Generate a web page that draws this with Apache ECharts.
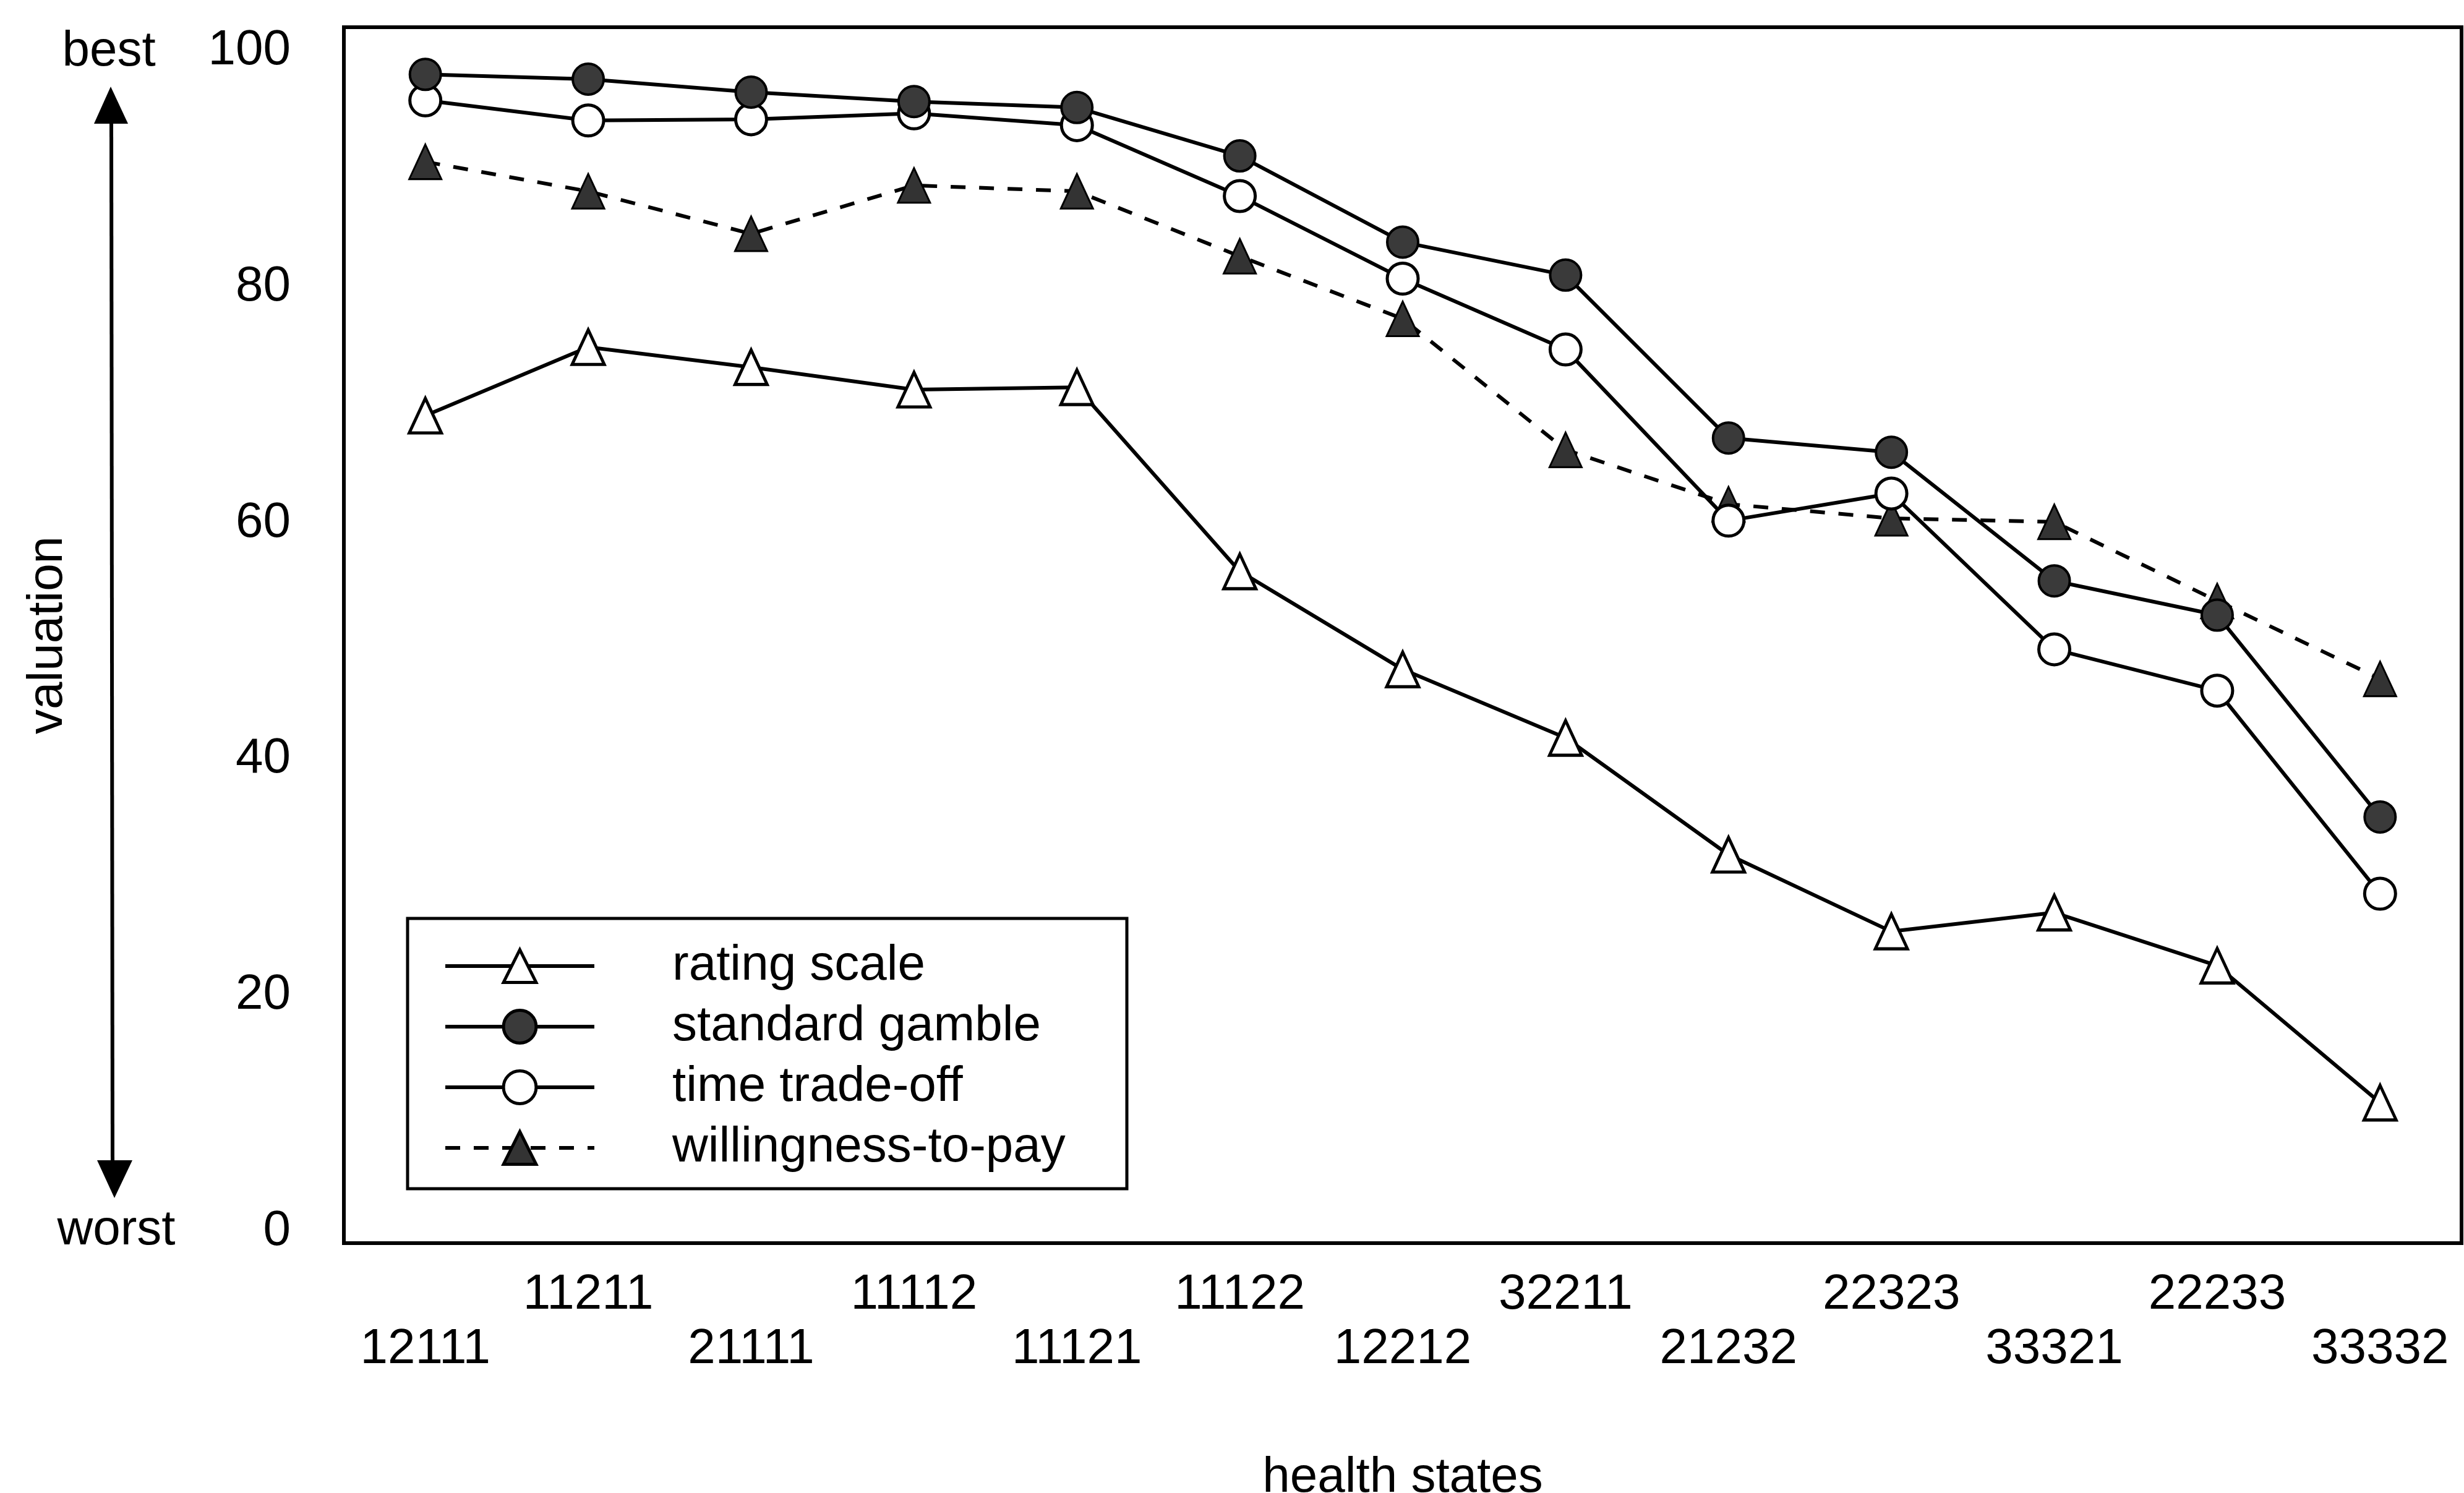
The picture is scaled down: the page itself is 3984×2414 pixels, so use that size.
<!DOCTYPE html>
<html>
<head>
<meta charset="utf-8">
<script src="https://cdn.jsdelivr.net/npm/echarts@6/dist/echarts.min.js"></script>
<style>
html,body{margin:0;padding:0;background:#fff;}
#chart{width:3984px;height:2414px;}
</style>
</head>
<body>
<div id="chart"></div>
<script>
const categories = ['12111','11211','21111','11112','11121','11122','12212','32211','21232','22323','33321','22233','33332'];
const ratingScale = [69.1, 74.9, 73.2, 71.3, 71.5, 55.9, 47.6, 41.8, 31.9, 25.4, 27.0, 22.5, 10.9];
const standardGamble = [98.0, 97.6, 96.5, 95.7, 95.2, 91.1, 83.8, 81.0, 67.2, 66.0, 55.1, 52.2, 35.1];
const timeTradeOff = [95.8, 94.1, 94.2, 94.7, 93.7, 87.7, 80.7, 74.7, 60.2, 62.5, 49.3, 45.8, 28.6];
const willingnessToPay = [90.6, 88.1, 84.5, 88.6, 88.1, 82.6, 77.3, 66.2, 61.6, 60.4, 60.1, 53.4, 46.8];
const yTickValues = [0, 20, 40, 60, 80, 100];

const FONT = 'Liberation Sans, Arial, Helvetica, sans-serif';
const chart = echarts.init(document.getElementById('chart'));

const lineW = 6;
const option = {
  animation: false,
  backgroundColor: '#fff',
  grid: {
    left: 556, right: 4, top: 44, bottom: 404,
    outerBoundsMode: 'none',
    containLabel: false,
    show: true, borderColor: '#000', borderWidth: 6, backgroundColor: 'transparent'
  },
  xAxis: {
    type: 'category',
    data: categories,
    boundaryGap: true,
    name: 'health states',
    nameLocation: 'middle',
    nameGap: 340,
    nameTextStyle: { fontFamily: FONT, fontSize: 80, color: '#000' },
    axisLine: { show: false },
    axisTick: { show: false },
    splitLine: { show: false },
    axisLabel: {
      interval: 0,
      margin: 40,
      fontFamily: FONT, fontSize: 80, color: '#000', lineHeight: 88,
      formatter: function (v, i) { return i % 2 === 0 ? '\n' + v : v; }
    }
  },
  yAxis: {
    type: 'value',
    min: -1,
    max: 102,
    name: 'valuation',
    nameLocation: 'middle',
    nameRotate: 90,
    nameGap: 438,
    nameTextStyle: { fontFamily: FONT, fontSize: 80, color: '#000' },
    axisLine: { show: false },
    axisTick: { show: false },
    splitLine: { show: false },
    axisLabel: {
      customValues: yTickValues,
      margin: 86,
      fontFamily: FONT, fontSize: 80, color: '#000'
    }
  },
  legend: {
    orient: 'vertical',
    left: 717,
    top: 1522,
    padding: 0,
    itemWidth: 241,
    itemHeight: 66,
    itemGap: 18,
    itemStyle: { borderWidth: 5 },
    lineStyle: { width: lineW },
    textStyle: { fontFamily: FONT, fontSize: 80, lineHeight: 66, color: '#000', padding: [0, 0, 0, 121] },
    data: ['rating scale', 'standard gamble', 'time trade-off', 'willingness-to-pay']
  },
  series: [
    {
      name: 'rating scale', type: 'line', data: ratingScale,
      symbol: 'triangle', symbolSize: [52, 56],
      lineStyle: { color: '#000', width: lineW },
      itemStyle: { color: '#fff', borderColor: '#000', borderWidth: 5 },
      z: 3
    },
    {
      name: 'willingness-to-pay', type: 'line', data: willingnessToPay,
      symbol: 'triangle', symbolSize: [52, 56],
      lineStyle: { color: '#000', width: lineW, type: [24, 22] },
      itemStyle: { color: '#333', borderColor: '#000', borderWidth: 3 },
      z: 3
    },
    {
      name: 'time trade-off', type: 'line', data: timeTradeOff,
      symbol: 'circle', symbolSize: 50,
      lineStyle: { color: '#000', width: lineW },
      itemStyle: { color: '#fff', borderColor: '#000', borderWidth: 5 },
      z: 4
    },
    {
      name: 'standard gamble', type: 'line', data: standardGamble,
      symbol: 'circle', symbolSize: 50,
      lineStyle: { color: '#000', width: lineW },
      itemStyle: { color: '#3a3a3a', borderColor: '#000', borderWidth: 4 },
      z: 5
    }
  ],
  graphic: [
    {
      type: 'rect', z: 3,
      shape: { x: 659, y: 1485, width: 1163, height: 437 },
      style: { fill: '#fff', stroke: '#000', lineWidth: 5 }
    },
    {
      type: 'text', z: 10,
      style: { text: 'best', x: 176, y: 84, align: 'center', verticalAlign: 'middle',
               font: '80px ' + FONT, fill: '#000' }
    },
    {
      type: 'text', z: 10,
      style: { text: 'worst', x: 188, y: 1990, align: 'center', verticalAlign: 'middle',
               font: '80px ' + FONT, fill: '#000' }
    },
    {
      type: 'line', z: 10,
      shape: { x1: 180, y1: 195, x2: 182, y2: 1880 },
      style: { stroke: '#000', lineWidth: 6 }
    },
    {
      type: 'polygon', z: 10,
      shape: { points: [[179, 140], [152, 200], [207, 200]] },
      style: { fill: '#000' }
    },
    {
      type: 'polygon', z: 10,
      shape: { points: [[185, 1937], [157, 1876], [214, 1876]] },
      style: { fill: '#000' }
    }
  ]
};
chart.setOption(option);
</script>
</body>
</html>
